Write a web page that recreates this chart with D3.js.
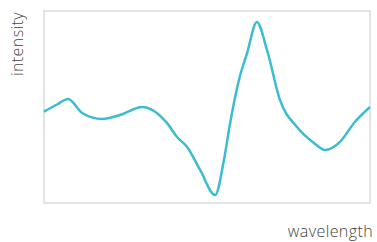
<!DOCTYPE html>
<html>
<head>
<meta charset="utf-8">
<script src="https://cdn.jsdelivr.net/npm/d3@7"></script>
<style>
  body { margin: 0; background: #fff; }
  text { font-family: "Open Sans", "Lato", sans-serif; font-weight: 300; fill: #444; letter-spacing: 0.4px; }
</style>
</head>
<body>
<div id="chart"></div>
<script>
// Spektrum verileri (göreli birimler)
const wavelength = [0, 4.0, 7.4, 11.7, 17.8, 23.3, 30.1, 37.7, 40.8, 43.9, 47.9, 52.5, 55.2,
    57.1, 59.8, 62.3, 65.3, 68.4, 72.4, 77.6, 82.8, 86.2, 90.8, 95.1, 100];
const intensity = [47.6, 51.3, 54.2, 46.9, 43.8, 45.8, 50.0, 41.7, 34.4, 29.2, 17.2, 4.2, 22.4,
    41.7, 64.1, 78.1, 94.3, 79.7, 53.6, 39.6, 31.3, 27.6, 31.8, 41.7, 50.0];
const xLabel = "wavelength";
const yLabel = "intensity";

const width = 377, height = 242;
const margin = { top: 11, right: 7, bottom: 39, left: 44 };

let svg = d3.select('#chart')
    .append('svg')
    .attr('width', width)
    .attr('height', height);

const x = d3.scaleLinear().domain([0, 100]).range([margin.left, width - margin.right]);
const y = d3.scaleLinear().domain([0, 100]).range([height - margin.bottom, margin.top]);

// Çerçeve
svg.append("rect")
    .attr("x", x(0))
    .attr("y", y(100))
    .attr("width", x(100) - x(0))
    .attr("height", y(0) - y(100))
    .attr("fill", "none")
    .attr("stroke", "#dcdcdc")
    .attr("stroke-width", 1.5);

const data = wavelength.map((w, i) => ({ w: w, v: intensity[i] }));

const line = d3.line()
    .x(d => x(d.w))
    .y(d => y(d.v))
    .curve(d3.curveMonotoneX);

svg.append("path")
    .datum(data)
    .attr("d", line)
    .attr("fill", "none")
    .attr("stroke", "#3bbdcf")
    .attr("stroke-width", 2.5);

// Eksen başlıkları
svg.append("text")
    .attr("x", width - 4)
    .attr("y", 237)
    .attr("text-anchor", "end")
    .style("font-size", "16px")
    .text(xLabel);

svg.append("text")
    .attr("transform", "translate(23,12) rotate(-90)")
    .attr("text-anchor", "end")
    .style("font-size", "16px")
    .text(yLabel);
</script>
</body>
</html>
